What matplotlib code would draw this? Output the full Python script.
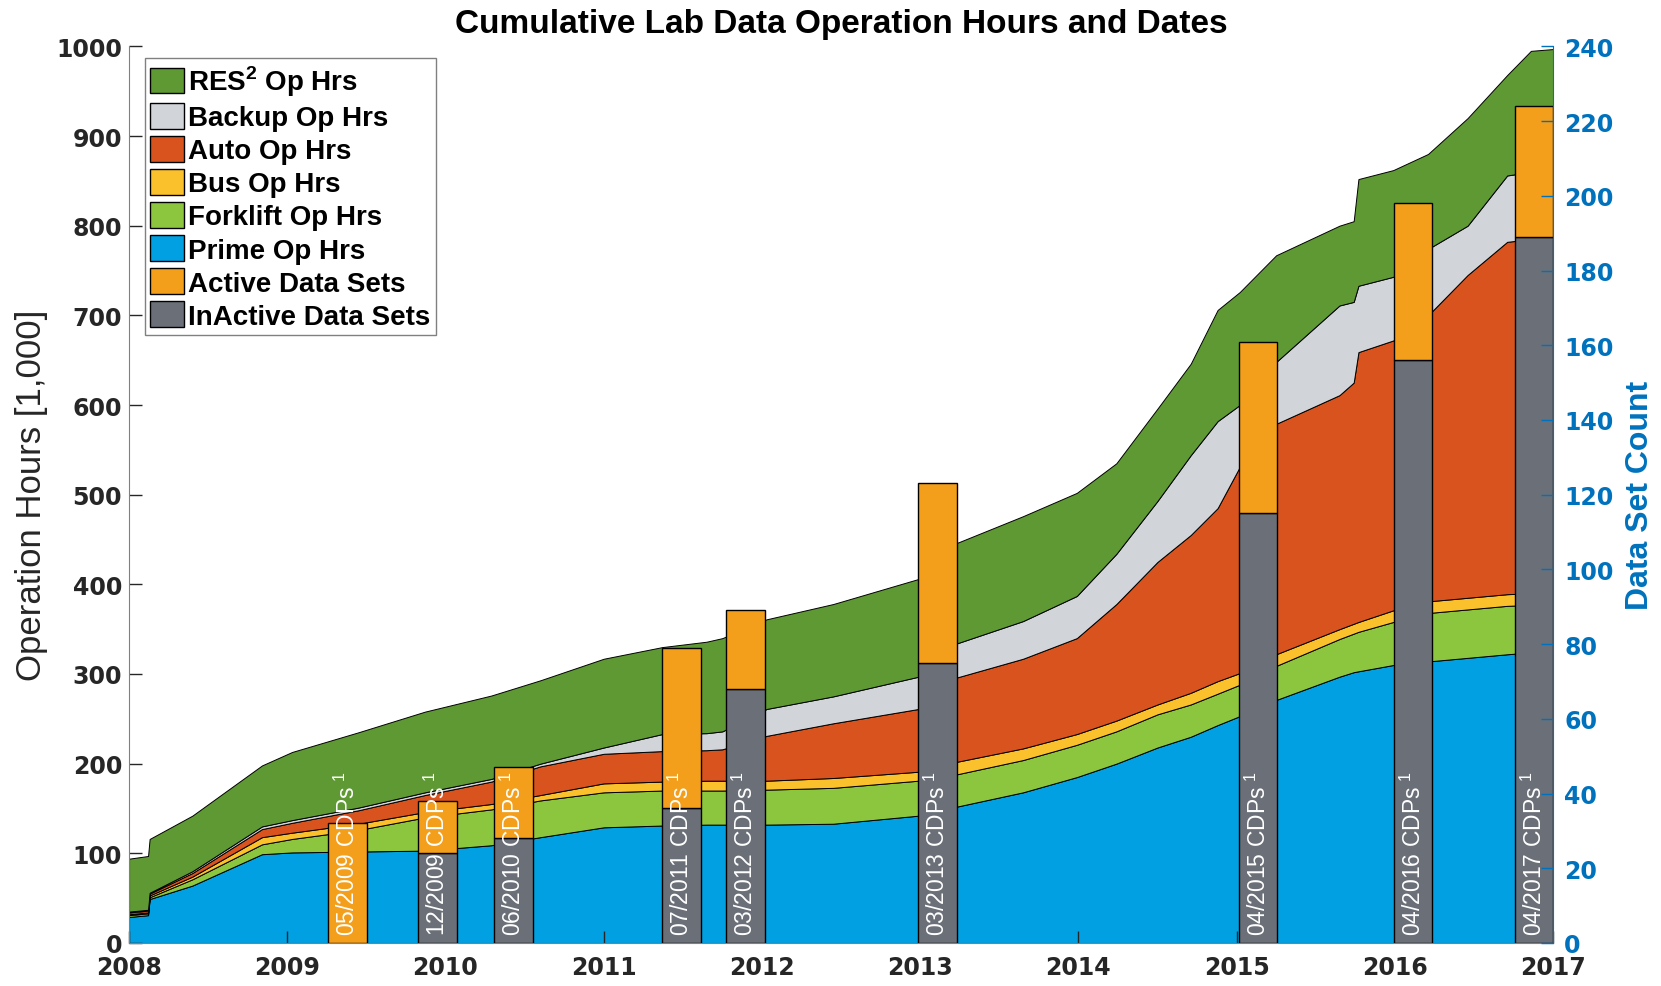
import matplotlib
matplotlib.use("Agg")
import matplotlib.pyplot as plt
import matplotlib.patches as mpatches
import numpy as np

# time axis (decimal years)
t = [2008.0, 2008.12, 2008.13, 2008.4, 2008.84, 2009.03, 2009.45, 2009.87, 2010.29, 2010.6,
     2011.0, 2011.37, 2011.65, 2011.75, 2012.03, 2012.45, 2012.99, 2013.23, 2013.65, 2013.99,
     2014.24, 2014.5, 2014.71, 2014.88, 2015.02, 2015.25, 2015.65, 2015.74, 2015.77, 2015.99,
     2016.21, 2016.46, 2016.71, 2016.86, 2017.0]

# cumulative tops of each stacked layer [1,000 hrs]
prime_top = [29, 31, 49, 64, 99, 101, 102, 103, 109, 118,
             129, 131, 132, 132, 132, 133, 142, 152, 168, 185,
             200, 218, 230, 243, 253, 271, 297, 302, 303, 310,
             314, 318, 322, 324, 325]
forklift_top = [31, 33, 51, 71, 110, 116, 126, 140, 149, 159,
                168, 170, 170, 170, 171, 173, 181, 188, 204, 221,
                236, 255, 266, 278, 288, 309, 339, 345, 347, 358,
                368, 372, 376, 377, 378]
bus_top = [32, 34, 53, 74, 118, 123, 133, 146, 155, 165,
           178, 180, 181, 181, 181, 184, 191, 202, 217, 233,
           248, 266, 279, 292, 301, 322, 350, 356, 358, 371,
           381, 385, 389, 390, 391]
auto_top = [34, 36, 55, 78, 127, 134, 148, 165, 180, 197,
            211, 214, 215, 216, 231, 245, 261, 296, 317, 340,
            378, 425, 455, 485, 531, 579, 611, 625, 659, 672,
            700, 745, 782, 785, 790]
backup_top = [35, 37, 56, 80, 130, 137, 151, 168, 183, 200,
              218, 233, 234, 236, 261, 275, 297, 334, 359, 387,
              434, 493, 544, 582, 600, 648, 711, 715, 733, 743,
              774, 800, 856, 860, 862]
res_top = [94, 97, 116, 142, 198, 213, 235, 258, 276, 293,
           317, 330, 336, 340, 361, 378, 406, 446, 476, 502,
           535, 596, 646, 706, 726, 767, 800, 805, 852, 862,
           880, 920, 968, 995, 997]

# data set bars (right axis)
bar_pos = [2009.38, 2009.95, 2010.43, 2011.49, 2011.895, 2013.11, 2015.135, 2016.115, 2016.88]
bar_labels = ["05/2009", "12/2009", "06/2010", "07/2011", "03/2012",
              "03/2013", "04/2015", "04/2016", "04/2017"]
inactive_sets = [0, 24, 28, 36, 68, 75, 115, 156, 189]
active_sets = [32, 14, 19, 43, 21, 48, 46, 42, 35]

series_names = ["RES$^\\mathbf{2}$ Op Hrs", "Backup Op Hrs", "Auto Op Hrs", "Bus Op Hrs",
                "Forklift Op Hrs", "Prime Op Hrs", "Active Data Sets", "InActive Data Sets"]
c_res, c_backup, c_auto, c_bus = '#5e9933', '#d1d4d8', '#d9531e', '#fbc12d'
c_fork, c_prime, c_active, c_inactive = '#8cc63f', '#00a0e2', '#f39f1c', '#6a6f78'
axcol = '#262626'
blue = '#0072bd'

plt.rcParams['font.family'] = ['Liberation Sans', 'DejaVu Sans']
plt.rcParams['mathtext.fontset'] = 'custom'
plt.rcParams['mathtext.rm'] = 'Liberation Sans'
plt.rcParams['mathtext.bf'] = 'Liberation Sans:bold'

fig = plt.figure(figsize=(16.61, 9.87), dpi=100)
ax = fig.add_axes([0.0777, 0.0436, 0.8573, 0.9084])

layers = [(np.zeros(len(t)), prime_top, c_prime),
          (prime_top, forklift_top, c_fork),
          (forklift_top, bus_top, c_bus),
          (bus_top, auto_top, c_auto),
          (auto_top, backup_top, c_backup),
          (backup_top, res_top, c_res)]
for lo, hi, col in layers:
    ax.fill_between(t, lo, hi, facecolor=col, edgecolor='black', linewidth=0.7)

ax.set_xlim(2008, 2017)
ax.set_ylim(0, 1000)
ax.set_xticks(range(2008, 2018))
ax.set_yticks(range(0, 1001, 100))
ax.tick_params(direction='in', length=9, width=1, colors=axcol, labelsize=17, pad=5)
ax.tick_params(axis='x', pad=9)
for lab in ax.get_xticklabels() + ax.get_yticklabels():
    lab.set_family('DejaVu Sans')
    lab.set_fontweight('bold')
for s in ['top', 'right']:
    ax.spines[s].set_visible(False)
for s in ['left', 'bottom']:
    ax.spines[s].set_color('#808080')
ax.set_ylabel("Operation Hours [1,000]", fontsize=25, color=axcol,
              family=['Liberation Sans Narrow', 'Liberation Sans'], labelpad=6)
ax.set_title("Cumulative Lab Data Operation Hours and Dates", fontsize=24,
             fontweight='bold', color='black', pad=10)

ax2 = ax.twinx()
ax2.set_ylim(0, 240)
ax2.set_yticks(range(0, 241, 20))
bw = 0.245
ax2.bar(bar_pos, inactive_sets, width=bw, color=c_inactive, edgecolor='black', linewidth=1)
ax2.bar(bar_pos, active_sets, width=bw, bottom=inactive_sets, color=c_active,
        edgecolor='black', linewidth=1)
for x, lab in zip(bar_pos, bar_labels):
    ax2.text(x, 2, lab + " CDPs$^{\\ 1}$", rotation=90, ha='center', va='bottom',
             color='white', fontsize=16.5)

ax2.tick_params(direction='in', length=9, width=1, colors=blue, labelsize=17, pad=8)
for lab in ax2.get_yticklabels():
    lab.set_family('DejaVu Sans')
    lab.set_fontweight('bold')
ax2.spines['right'].set_color(blue)
for s in ['top', 'left', 'bottom']:
    ax2.spines[s].set_visible(False)
ax2.set_ylabel("Data Set Count", fontsize=23, fontweight='bold', color=blue, labelpad=8)

handles = [mpatches.Patch(facecolor=c, edgecolor='black', linewidth=1)
           for c in [c_res, c_backup, c_auto, c_bus, c_fork, c_prime, c_active, c_inactive]]
leg = ax2.legend(handles, series_names, loc='upper left', bbox_to_anchor=(0.011, 0.987),
                 prop={'weight': 'bold', 'size': 20}, fancybox=False, framealpha=1,
                 edgecolor='#808080', labelspacing=0.17, handlelength=1.2,
                 handleheight=1.05, handletextpad=0.15, borderpad=0.2, borderaxespad=0)
leg.get_frame().set_linewidth(1)

fig.savefig("out.png", dpi=100)
